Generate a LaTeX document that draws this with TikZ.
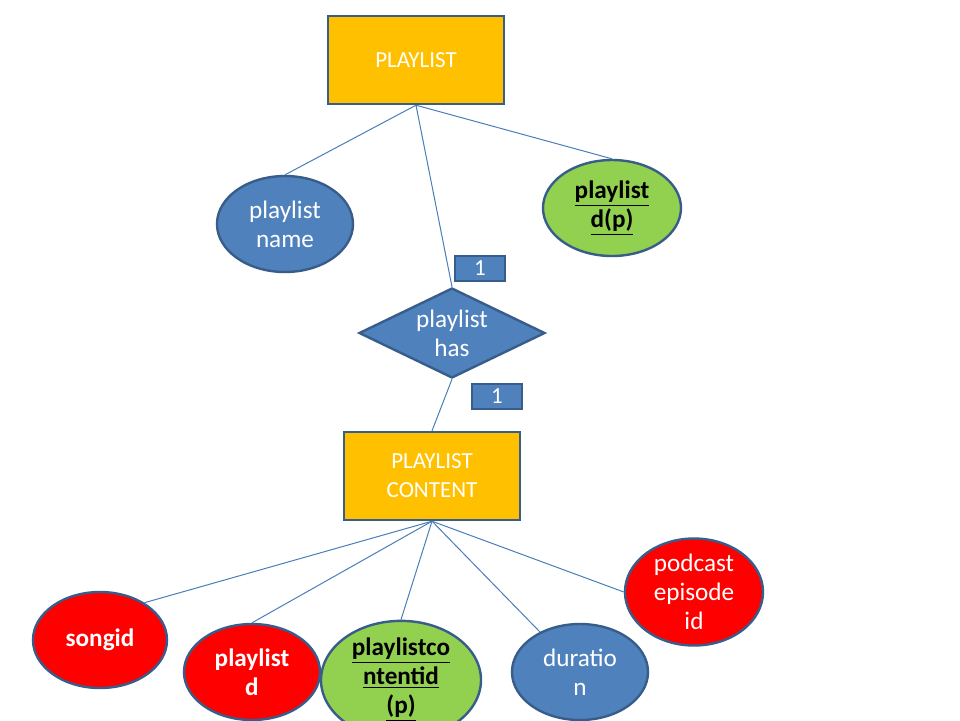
\documentclass[tikz,border=0pt]{standalone}
\usepackage{fontspec}
\setmainfont{Carlito}
\usetikzlibrary{shapes.geometric}
\definecolor{attrBlue}{RGB}{79,129,189}
\definecolor{edgeBlue}{RGB}{56,93,138}
\definecolor{lineBlue}{RGB}{74,126,187}
\definecolor{entYellow}{RGB}{255,192,0}
\definecolor{keyGreen}{RGB}{146,208,80}
\definecolor{fkRed}{RGB}{255,0,0}

\begin{document}
\begin{tikzpicture}[x=0.5pt, y=-0.5pt,
    every node/.style={font=\fontsize{11.5}{14.5}\selectfont, align=center, inner sep=0pt},
    bigtext/.style={font=\fontsize{12.6}{14.5}\selectfont},
    boldtext/.style={font=\fontsize{12.6}{14.5}\selectfont\bfseries},
    entity/.style={rectangle, draw=edgeBlue, line width=1.2pt, fill=entYellow, text=white,
      minimum width=88pt, minimum height=44pt},
    attr/.style={ellipse, draw=edgeBlue, line width=1.2pt, fill=attrBlue, text=white, bigtext,
      minimum width=68pt, minimum height=48pt},
    keyattr/.style={attr, fill=keyGreen, text=black, boldtext},
    redattr/.style={attr, fill=fkRed},
    relation/.style={diamond, draw=edgeBlue, line width=1.2pt, fill=attrBlue, text=white, bigtext,
      aspect=2.07, minimum width=93pt, minimum height=45pt},
    card/.style={rectangle, draw=edgeBlue, line width=1pt, fill=attrBlue, text=white,
      minimum width=25pt, minimum height=12.5pt},
    link/.style={draw=lineBlue, line width=0.5pt}]
  \clip (0,0) rectangle (960,720);
  \fill[white] (0,0) rectangle (960,720);

  % entities
  \node[entity] (playlist) at (416,60) {PLAYLIST};
  \node[entity] (content) at (432,476) {PLAYLIST\\CONTENT};

  % relationship and cardinalities
  \node[relation] (has) at (452,333) {playlist\\has};
  \node[card] (cardtop) at (480,268) {1};
  \node[card] (cardbot) at (497,396) {1};

  % attributes of PLAYLIST
  \node[attr] (pname) at (285,224) {playlist\\name};
  \node[keyattr, minimum width=69pt] (pid) at (612,208) {\underline{playlist}\\\underline{d(p)}};

  % attributes of PLAYLIST CONTENT
  \node[redattr, minimum width=67pt, boldtext] (songid) at (100,640) {songid};
  \node[redattr, boldtext] (plid) at (252,672) {playlist\\d};
  \node[keyattr, minimum width=80pt] (pcid) at (401,680) {\underline{playlistco}\\\underline{ntentid}\\\underline{(p)}};
  \node[attr] (duration) at (580,672) {duratio\\n};
  \node[redattr, minimum width=69pt] (podcast) at (694,592) {podcast\\episode\\id};

  % connectors
  \draw[link] (playlist.south) -- (pname.north);
  \draw[link] (playlist.south) -- (pid.north);
  \draw[link] (playlist.south) -- (has.north);
  \draw[link] (has.south) -- (content.north);
  \draw[link] (content.south) -- (songid.40);
  \draw[link] (content.south) -- (plid.north);
  \draw[link] (content.south) -- (pcid.north);
  \draw[link] (content.south) -- (duration.135);
  \draw[link] (content.south) -- (podcast.west);
\end{tikzpicture}
\end{document}
